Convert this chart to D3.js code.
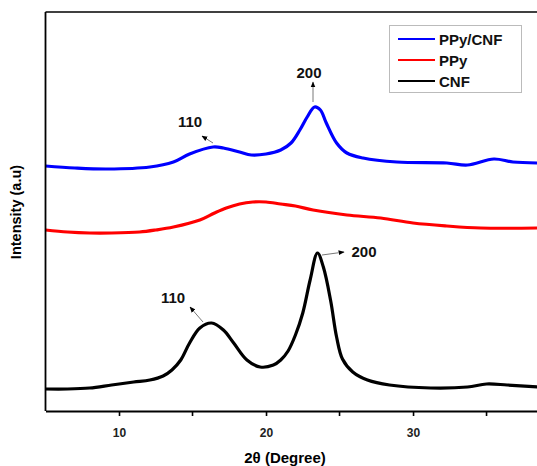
<!DOCTYPE html>
<html>
<head>
<meta charset="utf-8">
<script src="https://cdn.jsdelivr.net/npm/d3@7"></script>
<style>
  body { margin: 0; background: #fff; }
  text { font-family: Arial, "Liberation Sans", sans-serif; }
</style>
</head>
<body>
<svg id="chart" width="537" height="466"></svg>
<script>
// 2-theta values and intensities (a.u.)
const cnfTheta = [5.0, 6.5, 8.0, 9.5, 11.0, 12.1, 13.0, 13.6, 14.2, 14.8, 15.5, 16.3, 17.1, 17.8, 18.7, 19.6, 20.5, 21.0, 21.5, 22.0, 22.5, 23.0, 23.5, 23.9, 24.4, 24.8, 25.2, 25.9, 26.9, 28.4, 31.2, 33.7, 35.0, 36.4, 38.5];
const cnfValues = [22, 22, 23, 26, 29, 31, 35, 41, 51, 68, 83, 88, 81, 68, 51, 44, 46, 51, 60, 76, 98, 131, 158, 144, 110, 74, 52, 39, 31, 26, 23, 24, 27, 26, 24];

const ppyTheta = [5.0, 6.5, 8.0, 9.5, 11.4, 12.5, 13.7, 15.5, 16.5, 17.3, 18.2, 19.1, 20.0, 21.0, 22.0, 23.2, 25.5, 27.8, 30.0, 32.3, 34.6, 38.5];
const ppyValues = [181, 179, 178, 178, 179, 181, 184, 191, 198, 203, 207, 209, 209, 207, 205, 201, 196, 193, 188, 185, 183, 183];

const compTheta = [5.0, 7.0, 9.2, 12.1, 13.7, 14.8, 16.4, 17.1, 18.2, 19.0, 20.0, 21.0, 21.7, 22.3, 22.8, 23.3, 23.7, 24.1, 24.8, 25.5, 26.6, 28.9, 32.3, 33.7, 35.5, 36.8, 38.5];
const compValues = [245, 243, 242, 244, 249, 257, 264, 263, 259, 256, 257, 261, 268, 281, 294, 304, 301, 288, 268, 258, 253, 249, 248, 246, 252, 249, 248];

const seriesNames = ["PPy/CNF", "PPy", "CNF"];
const seriesColors = ["#0000ff", "#ff0000", "#000000"];
const xTicks = [10, 20, 30];
const xMinorTicks = [15, 25, 35];

const svg = d3.select("#chart");
const padLeft = 45.5, padTop = 12, padBottom = 411, padRight = 538;

const x = d3.scaleLinear().domain([5, 38.5]).range([padLeft, padRight]);
const y = d3.scaleLinear().domain([0, 399]).range([padBottom, padTop]);

const line = d3.line()
    .x(d => x(d[0]))
    .y(d => y(d[1]))
    .curve(d3.curveCatmullRom.alpha(0.5));

const series = [
    { name: "PPy/CNF", data: d3.zip(compTheta, compValues), color: seriesColors[0] },
    { name: "PPy", data: d3.zip(ppyTheta, ppyValues), color: seriesColors[1] },
    { name: "CNF", data: d3.zip(cnfTheta, cnfValues), color: seriesColors[2] }
];

const defs = svg.append("defs");
defs.append("clipPath").attr("id", "plot")
    .append("rect").attr("x", padLeft).attr("y", padTop).attr("width", padRight - padLeft).attr("height", padBottom - padTop);

svg.append("g").attr("clip-path", "url(#plot)")
    .selectAll("path")
    .data(series)
    .enter().append("path")
    .attr("d", d => line(d.data))
    .attr("fill", "none")
    .attr("stroke", d => d.color)
    .attr("stroke-width", 3.2)
    .attr("stroke-linejoin", "round");

// frame
svg.append("line").attr("x1", padLeft).attr("x2", padRight).attr("y1", padTop).attr("y2", padTop)
    .attr("stroke", "#000").attr("stroke-width", 1.6);
svg.append("line").attr("x1", padLeft).attr("x2", padLeft).attr("y1", padTop).attr("y2", padBottom)
    .attr("stroke", "#000").attr("stroke-width", 1.8);

// x axis
const xAxis = svg.append("g").attr("transform", `translate(0,${padBottom})`)
    .call(d3.axisBottom(x).tickValues(xTicks).tickSize(5).tickPadding(12).tickSizeOuter(0));
xAxis.select(".domain").attr("stroke-width", 1.8);
xAxis.selectAll(".tick line").attr("stroke-width", 1.6);
xAxis.selectAll("text").attr("font-size", 12).attr("font-weight", "bold")
    .attr("font-family", "Arial, 'Liberation Sans', sans-serif").attr("fill", "#222");
xAxis.selectAll(".minor").data(xMinorTicks).enter().append("line")
    .attr("x1", d => x(d)).attr("x2", d => x(d)).attr("y1", 0).attr("y2", 5)
    .attr("stroke", "#000").attr("stroke-width", 1.6);

// axis titles
svg.append("text").attr("x", 285).attr("y", 463).attr("text-anchor", "middle")
    .attr("font-size", 15).attr("font-weight", "bold").text("2θ (Degree)");
svg.append("text").attr("transform", "translate(21,212) rotate(-90)").attr("text-anchor", "middle")
    .attr("font-size", 14.5).attr("font-weight", "bold").text("Intensity (a.u)");

// peak annotations
defs.append("marker").attr("id", "arrow")
    .attr("viewBox", "0 0 10 10").attr("refX", 9).attr("refY", 5)
    .attr("markerWidth", 6).attr("markerHeight", 6).attr("orient", "auto")
    .attr("markerUnits", "userSpaceOnUse")
    .append("path").attr("d", "M0,1 L10,5 L0,9 Z").attr("fill", "#000");

const notes = [
    { label: "110", tx: 190, ty: 127, from: [213, 143], to: [202, 136] },
    { label: "200", tx: 309, ty: 78, from: [313, 102], to: [313, 82] },
    { label: "110", tx: 173, ty: 303, from: [203, 322], to: [190, 307] },
    { label: "200", tx: 364, ty: 257, from: [322, 255], to: [344, 252] }
];
notes.forEach(n => {
    svg.append("line").attr("x1", n.from[0]).attr("y1", n.from[1]).attr("x2", n.to[0]).attr("y2", n.to[1])
        .attr("stroke", "#555").attr("stroke-width", 0.8).attr("marker-end", "url(#arrow)");
    svg.append("text").attr("x", n.tx).attr("y", n.ty).attr("text-anchor", "middle")
        .attr("font-size", 15).attr("font-weight", "bold").attr("fill", "#111").text(n.label);
});

// legend
const legend = svg.append("g");
legend.append("rect").attr("x", 389.5).attr("y", 25.5).attr("width", 132).attr("height", 67)
    .attr("fill", "#fff").attr("stroke", "#bbb").attr("stroke-width", 1);
seriesNames.forEach((name, i) => {
    const ly = 39 + i * 21;
    legend.append("line").attr("x1", 398).attr("x2", 435).attr("y1", ly).attr("y2", ly)
        .attr("stroke", seriesColors[i]).attr("stroke-width", 2);
    legend.append("text").attr("x", 439).attr("y", ly + 5.5)
        .attr("font-size", 15).attr("font-weight", "bold").attr("fill", "#111").text(name);
});
</script>
</body>
</html>
